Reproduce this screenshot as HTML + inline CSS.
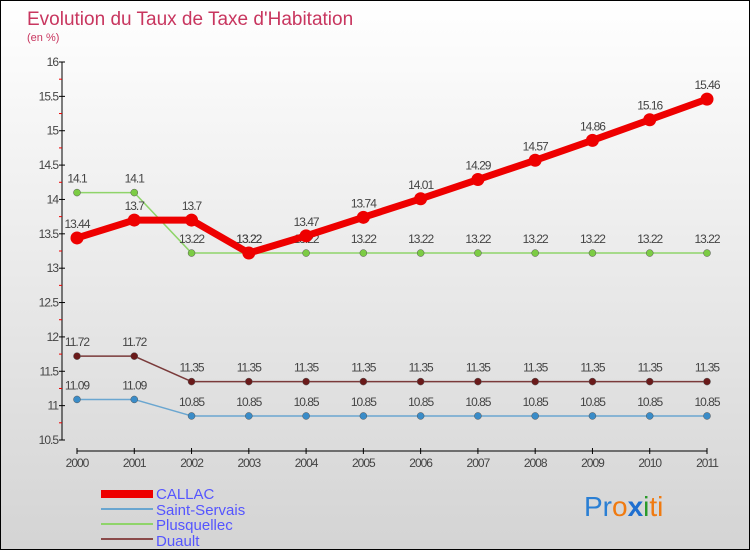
<!DOCTYPE html>
<html><head><meta charset="utf-8"><style>
body{margin:0}
#c{width:748px;height:548px;border:1px solid #000;background:linear-gradient(#fff,#d4d4d4);position:relative;font-family:"Liberation Sans",sans-serif;overflow:hidden}
svg text{font-family:"Liberation Sans",sans-serif}
</style></head><body>
<div id="c">
<svg id="s" width="748" height="548">
<text x="26" y="24" font-size="19" fill="#c8365f">Evolution du Taux de Taxe d'Habitation</text>
<text x="26" y="40" font-size="11" fill="#c8365f">(en %)</text>
<g id="axes"></g><g id="series"></g>
<g>
<rect x="100" y="489" width="52" height="8" fill="#e00"/>
<text x="155" y="498" font-size="15" fill="#55f">CALLAC</text>
<line x1="100" x2="152" y1="508" y2="508" stroke="#6aa6d0" stroke-width="2"/>
<text x="155" y="514" font-size="15" fill="#55f">Saint-Servais</text>
<line x1="100" x2="152" y1="523" y2="523" stroke="#8fd46a" stroke-width="2"/>
<text x="155" y="529" font-size="15" fill="#55f">Plusquellec</text>
<line x1="100" x2="152" y1="538" y2="538" stroke="#8a4a4a" stroke-width="2"/>
<text x="155" y="545" font-size="15" fill="#55f">Duault</text>
</g>
<text x="583" y="515" font-size="28"><tspan fill="#2a7fd4">Pr</tspan><tspan fill="#f07a10">o</tspan><tspan fill="#1f6fd0" font-weight="bold">x</tspan><tspan fill="#2a9a2a">i</tspan><tspan fill="#f07a10">ti</tspan></text>
</svg></div>
<script>
const years=[2000,2001,2002,2003,2004,2005,2006,2007,2008,2009,2010,2011];
const callac=[13.44,13.7,13.7,13.22,13.47,13.74,14.01,14.29,14.57,14.86,15.16,15.46];
const saintServais=[11.09,11.09,10.85,10.85,10.85,10.85,10.85,10.85,10.85,10.85,10.85,10.85];
const plusquellec=[14.1,14.1,13.22,13.22,13.22,13.22,13.22,13.22,13.22,13.22,13.22,13.22];
const duault=[11.72,11.72,11.35,11.35,11.35,11.35,11.35,11.35,11.35,11.35,11.35,11.35];
const yTicks=[10.5,11,11.5,12,12.5,13,13.5,14,14.5,15,15.5,16];
const NS="http://www.w3.org/2000/svg";
const X=i=>76+i*(630/11);
const Y=v=>439-(v-10.5)/5.5*378;
function mk(p,t,a){const e=document.createElementNS(NS,t);for(const k in a)e.setAttribute(k,a[k]);p.appendChild(e);return e;}
const ax=document.getElementById('axes'),sg=document.getElementById('series');
let l=mk(ax,'line',{x1:61,x2:61,y1:61,y2:439,stroke:'#000'});

l=mk(ax,'line',{x1:76,x2:706,y1:450,y2:450,stroke:'#000'});

yTicks.forEach((v,i)=>{
 mk(ax,'line',{x1:58,x2:64,y1:Y(v),y2:Y(v),stroke:'#000'});
 if(i<yTicks.length-1)mk(ax,'line',{x1:58,x2:61,y1:Y(v+0.25),y2:Y(v+0.25),stroke:'#e00'});
 const t=mk(ax,'text',{x:57,y:Y(v)+4,'font-size':12,fill:'#444','text-anchor':'end','letter-spacing':'-1'});
 t.textContent=String(v);
 
 
});
years.forEach((y,i)=>{
 mk(ax,'line',{x1:X(i),x2:X(i),y1:447,y2:453,stroke:'#000'});
 const t=mk(ax,'text',{x:X(i),y:466,'font-size':12,fill:'#444','text-anchor':'middle','letter-spacing':'-1'});
 t.textContent=y;
 
 
});
function series(d,name,color,lw,r,mfill){
 const g=mk(sg,'g',{});
 
 
 mk(g,'polyline',{points:d.map((v,i)=>X(i)+','+Y(v)).join(' '),fill:'none',stroke:color,'stroke-width':lw,'stroke-linejoin':'round'});
 d.forEach((v,i)=>{
  const c=mk(g,'circle',{cx:X(i),cy:Y(v),r:r,fill:mfill,stroke:r>4?'none':'#555','stroke-width':0.5});
  
  
  const t=mk(g,'text',{x:X(i),y:Y(v)-10,'font-size':12,fill:'#444','text-anchor':'middle','letter-spacing':'-1'});
  t.textContent=String(v);
  
  
 });
}
series(saintServais,'saint-servais','#6aa6d0',1.5,3.5,'#3a8cc8');
series(duault,'duault','#7a3a3a',1.5,3.5,'#6a1a1a');
series(plusquellec,'plusquellec','#8fd46a',1.5,3.5,'#7ccc44');
series(callac,'callac','#e00',7,6.5,'#e00');
</script>
</body></html>
